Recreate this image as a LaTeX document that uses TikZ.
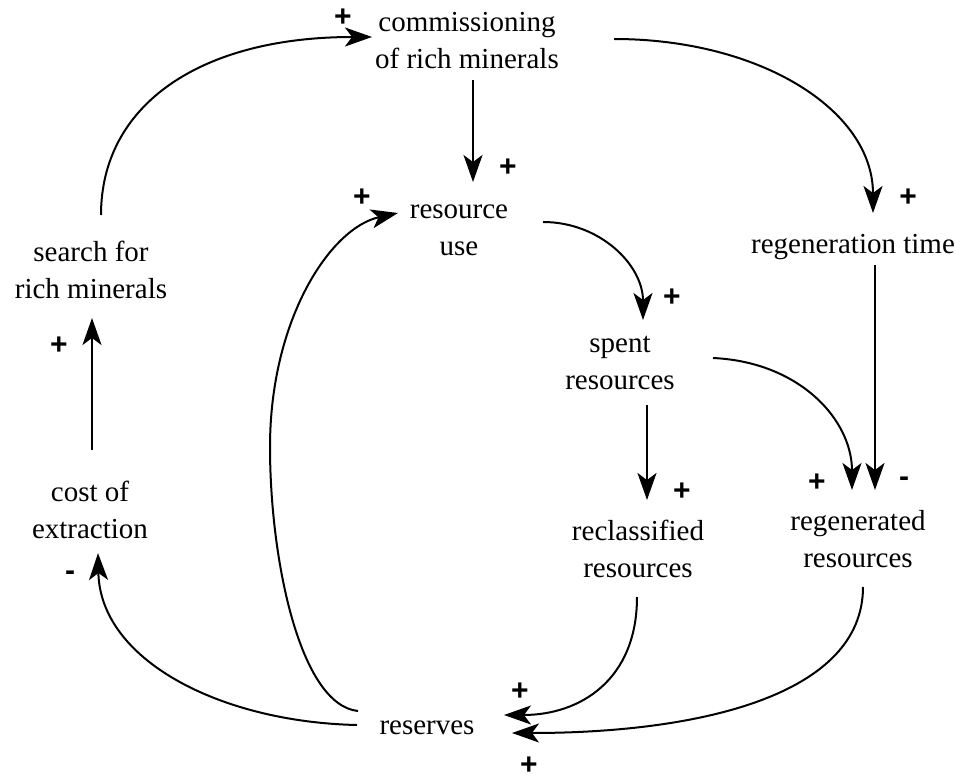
\documentclass[tikz,border=0pt]{standalone}
\usepackage{fontspec}
\setmainfont{Liberation Serif}
\newfontfamily\signfont{Liberation Sans}
\usetikzlibrary{arrows.meta}
\begin{document}
\begin{tikzpicture}[x=1pt,y=-1pt,
  label/.style={font=\fontsize{29}{37}\selectfont, align=center, anchor=base, inner sep=0pt},
  sign/.style={font=\signfont\bfseries\fontsize{30}{30}\selectfont, inner sep=0pt, anchor=center},
  link/.style={line width=2pt, -{Stealth[length=27pt,width=19pt,inset=7pt]}},
]
\fill[white] (0,0) rectangle (956,781);
\useasboundingbox (0,0) rectangle (956,781);

% variables of the causal loop diagram (placed at the baseline of their last line)
\node[label] (comm)     at (467,69)  {commissioning\\of rich minerals};
\node[label] (resuse)   at (459,255) {resource\\use};
\node[label] (regt)     at (853,253) {regeneration time};
\node[label] (search)   at (91,298)  {search for\\rich minerals};
\node[label] (spent)    at (620,389) {spent\\resources};
\node[label] (cost)     at (90,538)  {cost of\\extraction};
\node[label] (reclass)  at (638,577) {reclassified\\resources};
\node[label] (regen)    at (858,567) {regenerated\\resources};
\node[label] (reserves) at (427,734) {reserves};

% causal links
\draw[link] ([shift={(10,-83)}]search.base) .. controls (101,105) and (200,37) .. ([shift={(-95,-32)}]comm.base);
\draw[link] ([shift={(6,11)}]comm.base) -- ([shift={(14,-73)}]resuse.base);
\draw[link] ([shift={(147,-30)}]comm.base) .. controls (760,39) and (873,110) .. ([shift={(20,-40)}]regt.base);
\draw[link] ([shift={(84,-33)}]resuse.base) .. controls (600,222) and (643,265) .. ([shift={(23,-69)}]spent.base);
\draw[link] ([shift={(93,-31)}]spent.base) .. controls (800,362) and (852,420) .. ([shift={(-6,-77)}]regen.base);
\draw[link] ([shift={(22,12)}]regt.base) -- ([shift={(17,-77)}]regen.base);
\draw[link] ([shift={(27,16)}]spent.base) -- ([shift={(9,-77)}]reclass.base);
\draw[link] ([shift={(-1,20)}]reclass.base) .. controls (637,680) and (580,715) .. ([shift={(77,-19)}]reserves.base);
\draw[link] ([shift={(5,20)}]regen.base) .. controls (863,695) and (700,733) .. ([shift={(85,-1)}]reserves.base);
\draw[link] ([shift={(-70,-9)}]reserves.base) .. controls (220,722) and (100,660) .. ([shift={(8,15)}]cost.base);
\draw[link] ([shift={(-69,-23)}]reserves.base) .. controls (300,705) and (270,560) .. (270,447)
            .. controls (270,320) and (330,228) .. ([shift={(-61,-42)}]resuse.base);
\draw[link] ([shift={(2,-88)}]cost.base) -- ([shift={(1,20)}]search.base);

% link polarities
\node[sign] (s1)  at (343,18)  {+};
\node[sign] (s2)  at (508,168) {+};
\node[sign] (s3)  at (362,198) {+};
\node[sign] (s4)  at (908,198) {+};
\node[sign] (s5)  at (672,298) {+};
\node[sign] (s6)  at (59,346)  {+};
\node[sign] (s7)  at (817,483) {+};
\node[sign] (s8)  at (904,482) {-};
\node[sign] (s9)  at (682,492) {+};
\node[sign] (s10) at (70,576)  {-};
\node[sign] (s11) at (520,692) {+};
\node[sign] (s12) at (529,766) {+};
\end{tikzpicture}
\end{document}
